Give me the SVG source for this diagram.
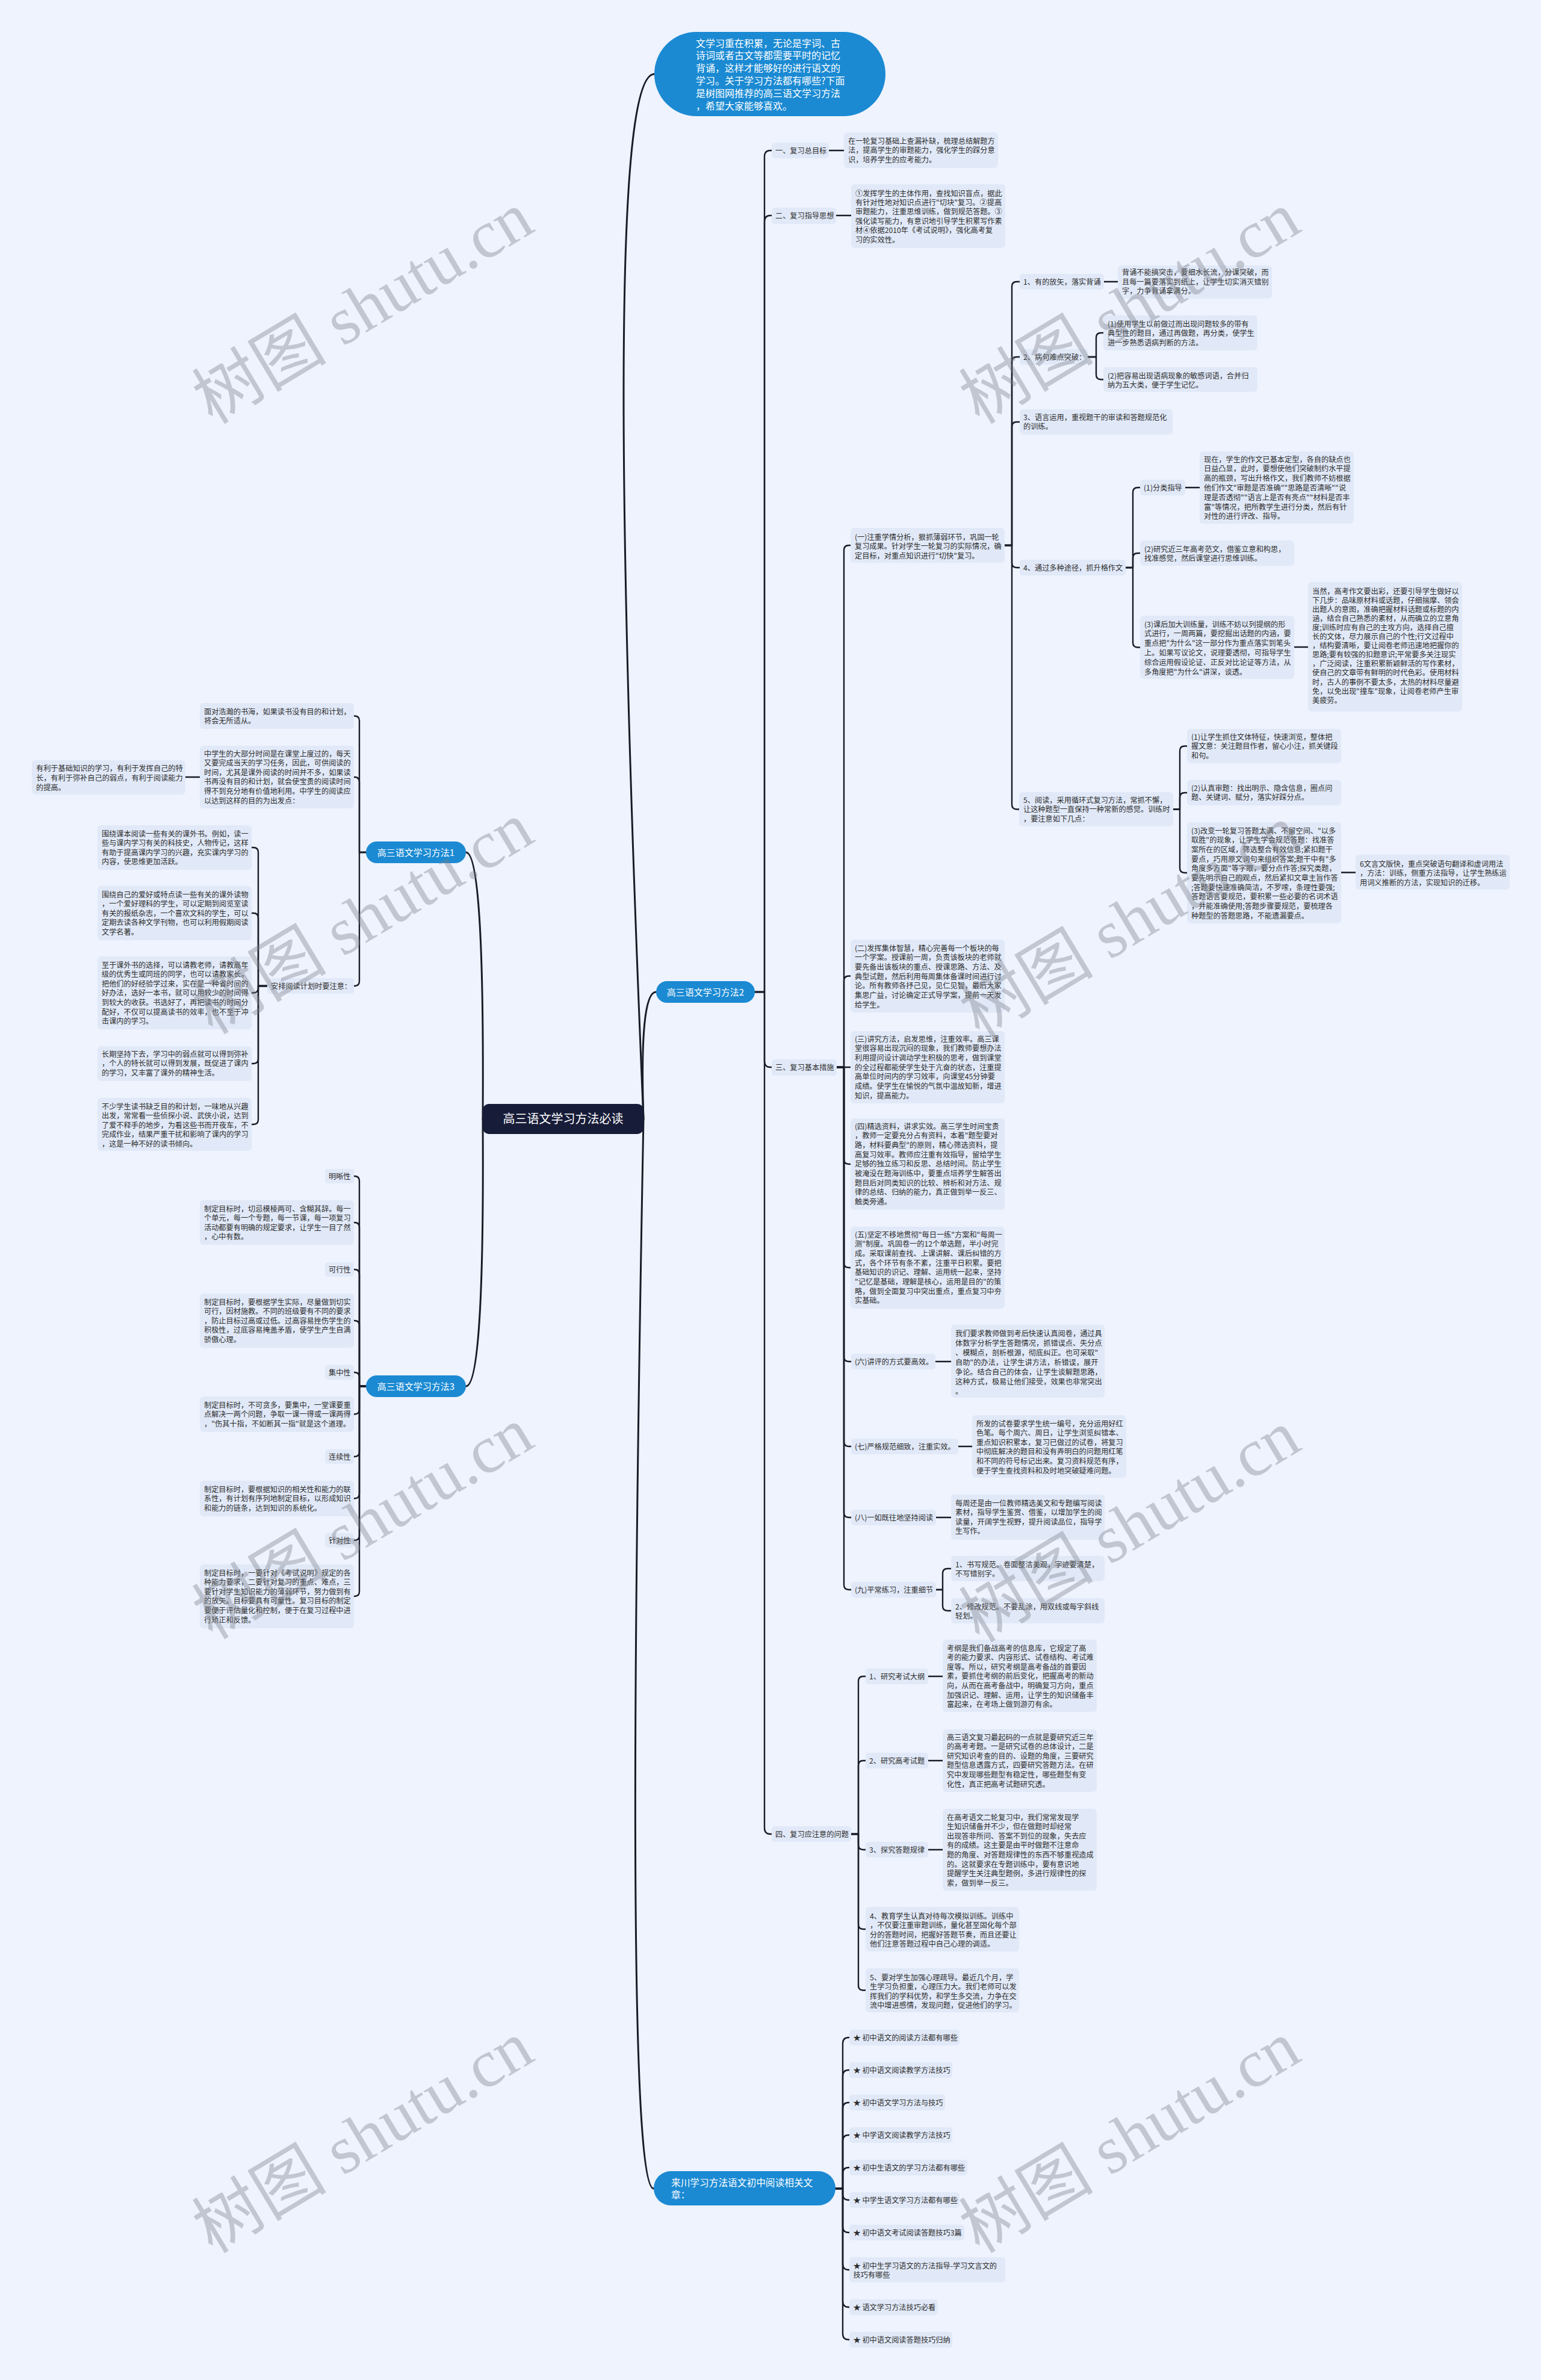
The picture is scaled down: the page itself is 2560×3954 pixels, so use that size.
<svg xmlns="http://www.w3.org/2000/svg" width="2560" height="3954" viewBox="0 0 2560 3954">
<defs><style>
.t{font-family:"Noto Sans CJK SC","Noto Sans",sans-serif;font-size:12.2px;fill:#2d2d2d}
.b{fill:#E1E9F8}
.p{fill:#1B8AD3}
.w{font-family:"Noto Sans CJK SC","Noto Sans",sans-serif;fill:#ffffff}
.c{fill:none;stroke:#191c28;stroke-width:2.4;stroke-linecap:round;stroke-linejoin:round}
.c0{fill:none;stroke:#191c28;stroke-width:3;stroke-linecap:round}
.wm{font-family:"Liberation Serif","Noto Sans CJK SC",serif;font-size:112px;fill:#7d8088;opacity:0.38}
</style></defs>
<rect width="2560" height="3954" fill="#EEF3FD"/>

<g id="connectors">
<path class="c0" d="M1069,1859 Q995,123 1087,123"/>
<path class="c0" d="M1069,1859 Q1062,1648 1090,1648"/>
<path class="c0" d="M1069,1859 Q1035,3636 1086,3636"/>
<path class="c0" d="M802,1859 Q805,1416 774,1416"/>
<path class="c0" d="M802,1859 Q805,2303 774,2303"/>
<!-- method2 -->
<path class="c" d="M1254,1648 H1270 V260 Q1270,250 1280,250 H1282"/>
<path class="c" d="M1254,1648 H1270 V368 Q1270,358 1280,358 H1282"/>
<path class="c" d="M1254,1648 H1270 V1763 Q1270,1773 1280,1773 H1282"/>
<path class="c" d="M1254,1648 H1270 V3037 Q1270,3047 1280,3047 H1282"/>
<path class="c" d="M1377,250 H1402"/>
<path class="c" d="M1389,358 H1414"/>
<!-- 三 -->
<path class="c" d="M1390,1773 H1402 V914 Q1402,906 1410,906 H1413"/>
<path class="c" d="M1390,1773 H1402 V1629.5 Q1402,1621.5 1410,1621.5 H1413"/>
<path class="c" d="M1390,1773 H1413"/>
<path class="c" d="M1390,1773 H1402 V1926 Q1402,1934 1410,1934 H1413"/>
<path class="c" d="M1390,1773 H1402 V2098 Q1402,2106 1410,2106 H1413"/>
<path class="c" d="M1390,1773 H1402 V2254 Q1402,2262 1410,2262 H1414"/>
<path class="c" d="M1390,1773 H1402 V2395 Q1402,2403 1410,2403 H1414"/>
<path class="c" d="M1390,1773 H1402 V2513 Q1402,2521 1410,2521 H1414"/>
<path class="c" d="M1390,1773 H1402 V2633 Q1402,2641 1410,2641 H1414"/>
<!-- (一) -->
<path class="c" d="M1669,906 H1681 V476 Q1681,468 1689,468 H1694"/>
<path class="c" d="M1669,906 H1681 V601 Q1681,593 1689,593 H1694"/>
<path class="c" d="M1669,906 H1681 V709 Q1681,701 1689,701 H1694"/>
<path class="c" d="M1669,906 H1681 V935 Q1681,943 1689,943 H1694"/>
<path class="c" d="M1669,906 H1681 V1336.5 Q1681,1344.5 1689,1344.5 H1693"/>
<path class="c" d="M1834,468 H1857"/>
<path class="c" d="M1807,593 H1821 V561 Q1821,553 1829,553 H1833"/>
<path class="c" d="M1807,593 H1821 V622.5 Q1821,630.5 1829,630.5 H1833"/>
<path class="c" d="M1870,943 H1882 V818 Q1882,810 1890,810 H1894"/>
<path class="c" d="M1870,943 H1882 V927 Q1882,919 1890,919 H1894"/>
<path class="c" d="M1870,943 H1882 V1067.5 Q1882,1075.5 1890,1075.5 H1894"/>
<path class="c" d="M1969,810 H1993"/>
<path class="c" d="M2150,1075 H2173"/>
<path class="c" d="M1949,1344.5 H1960 V1247.5 Q1960,1239.5 1968,1239.5 H1972"/>
<path class="c" d="M1949,1344.5 H1960 V1325 Q1960,1317 1968,1317 H1972"/>
<path class="c" d="M1949,1344.5 H1960 V1442 Q1960,1450 1968,1450 H1972"/>
<path class="c" d="M2228,1449.5 H2252"/>
<!-- (六)-(九) -->
<path class="c" d="M1554,2262 H1580"/>
<path class="c" d="M1592,2403 H1615"/>
<path class="c" d="M1555,2521 H1580"/>
<path class="c" d="M1555,2641 H1566 V2614 Q1566,2606 1574,2606 H1580"/>
<path class="c" d="M1555,2641 H1566 V2668 Q1566,2676 1574,2676 H1580"/>
<!-- 四 -->
<path class="c" d="M1414,3047 H1426 V2793 Q1426,2785 1434,2785 H1438"/>
<path class="c" d="M1414,3047 H1426 V2933 Q1426,2925 1434,2925 H1438"/>
<path class="c" d="M1414,3047 H1426 V3065 Q1426,3073 1434,3073 H1438"/>
<path class="c" d="M1414,3047 H1426 V3197 Q1426,3205 1434,3205 H1438"/>
<path class="c" d="M1414,3047 H1426 V3298.5 Q1426,3306.5 1434,3306.5 H1438"/>
<path class="c" d="M1542,2785 H1566"/>
<path class="c" d="M1542,2925 H1566"/>
<path class="c" d="M1542,3073 H1566"/>
<!-- links -->
<path class="c" d="M1388,3636 H1400 V3395 Q1400,3385 1410,3385 H1411"/>
<path class="c" d="M1388,3636 H1400 V3449 Q1400,3439 1410,3439 H1411"/>
<path class="c" d="M1388,3636 H1400 V3503 Q1400,3493 1410,3493 H1411"/>
<path class="c" d="M1388,3636 H1400 V3557 Q1400,3547 1410,3547 H1411"/>
<path class="c" d="M1388,3636 H1400 V3611 Q1400,3601 1410,3601 H1411"/>
<path class="c" d="M1388,3636 H1400 V3645 Q1400,3655 1410,3655 H1411"/>
<path class="c" d="M1388,3636 H1400 V3699 Q1400,3709 1410,3709 H1411"/>
<path class="c" d="M1388,3636 H1400 V3761 Q1400,3771 1410,3771 H1411"/>
<path class="c" d="M1388,3636 H1400 V3823 Q1400,3833 1410,3833 H1411"/>
<path class="c" d="M1388,3636 H1400 V3877 Q1400,3887 1410,3887 H1411"/>
<!-- method1 -->
<path class="c" d="M608,1416 H597 V1197.5 Q597,1189.5 589,1189.5 H588"/>
<path class="c" d="M608,1416 H597 V1299 Q597,1291 589,1291 H588"/>
<path class="c" d="M608,1416 H597 V1630 Q597,1638 589,1638 H588"/>
<path class="c" d="M332,1291 H308"/>
<path class="c" d="M444,1638 H429 V1416 Q429,1408 421,1408 H418"/>
<path class="c" d="M444,1638 H429 V1525 Q429,1517 421,1517 H418"/>
<path class="c" d="M444,1638 H429 V1641.5 Q429,1649.5 421,1649.5 H418"/>
<path class="c" d="M444,1638 H429 V1759 Q429,1767 421,1767 H418"/>
<path class="c" d="M444,1638 H429 V1860 Q429,1868 421,1868 H418"/>
<!-- method3 -->
<path class="c" d="M608,2303 H597 V1962 Q597,1954 589,1954 H588"/>
<path class="c" d="M608,2303 H597 V2039 Q597,2031 589,2031 H588"/>
<path class="c" d="M608,2303 H597 V2117 Q597,2109 589,2109 H588"/>
<path class="c" d="M608,2303 H597 V2202 Q597,2194 589,2194 H588"/>
<path class="c" d="M608,2303 H597 V2288 Q597,2280 589,2280 H588"/>
<path class="c" d="M608,2303 H597 V2341.5 Q597,2349.5 589,2349.5 H588"/>
<path class="c" d="M608,2303 H597 V2412 Q597,2420 589,2420 H588"/>
<path class="c" d="M608,2303 H597 V2481.5 Q597,2489.5 589,2489.5 H588"/>
<path class="c" d="M608,2303 H597 V2551 Q597,2559 589,2559 H588"/>
<path class="c" d="M608,2303 H597 V2644 Q597,2652 589,2652 H588"/>
</g>

<g id="root"><rect x="802" y="1834" width="267" height="50" rx="10" fill="#171c38"/><text class="w" x="935.5" y="1866" text-anchor="middle" font-size="20">高三语文学习方法必读</text></g>

<g id="intro"><rect class="p" x="1087" y="53" width="384" height="140" rx="70"/>
<text class="w" font-size="16"><tspan x="1156" y="77.5">文学习重在积累，无论是字词、古</tspan><tspan x="1156" dy="20.9">诗词或者古文等都需要平时的记忆</tspan><tspan x="1156" dy="20.9">背诵，这样才能够好的进行语文的</tspan><tspan x="1156" dy="20.9">学习。关于学习方法都有哪些?下面</tspan><tspan x="1156" dy="20.9">是树图网推荐的高三语文学习方法</tspan><tspan x="1156" dy="20.9">，希望大家能够喜欢。</tspan></text></g>

<g id="method2"><rect class="p" x="1090" y="1630" width="164" height="36" rx="18"/><text class="w" x="1172" y="1653.5" text-anchor="middle" font-size="15">高三语文学习方法2</text></g>

<g id="n-goal"><rect class="b" x="1282" y="237" width="95" height="26" rx="5"/><text class="t" x="1288" y="254.5">一、复习总目标</text></g>
<g id="n-goal-t"><rect class="b" x="1402" y="220" width="256" height="59" rx="6"/><text class="t"><tspan x="1409" y="238.5">在一轮复习基础上查漏补缺，梳理总结解题方</tspan><tspan x="1409" dy="15.8">法，提高学生的审题能力，强化学生的踩分意</tspan><tspan x="1409" dy="15.8">识，培养学生的应考能力。</tspan></text></g>

<g id="n-guide"><rect class="b" x="1282" y="345" width="107" height="27" rx="5"/><text class="t" x="1288" y="362.5">二、复习指导思想</text></g>
<g id="n-guide-t"><rect class="b" x="1414" y="306" width="256" height="106" rx="6"/><text class="t"><tspan x="1421" y="325.5">①发挥学生的主体作用，查找知识盲点，据此</tspan><tspan x="1421" dy="15.4">有针对性地对知识点进行"切块"复习。②提高</tspan><tspan x="1421" dy="15.4">审题能力，注重思维训练，做到规范答题。③</tspan><tspan x="1421" dy="15.4">强化读写能力，有意识地引导学生积累写作素</tspan><tspan x="1421" dy="15.4">材④依据2010年《考试说明》，强化高考复</tspan><tspan x="1421" dy="15.4">习的实效性。</tspan></text></g>

<g id="n-measure"><rect class="b" x="1282" y="1760" width="108" height="27" rx="5"/><text class="t" x="1288" y="1778">三、复习基本措施</text></g>

<g id="n-m1"><rect class="b" x="1413" y="877" width="256" height="58" rx="6"/><text class="t"><tspan x="1420" y="896.5">(一)注重学情分析，狠抓薄弱环节，巩固一轮</tspan><tspan x="1420" dy="15.6">复习成果。针对学生一轮复习的实际情况，确</tspan><tspan x="1420" dy="15.6">定目标，对重点知识进行"切快"复习。</tspan></text></g>

<g id="n-m1-1"><rect class="b" x="1694" y="455" width="140" height="26" rx="5"/><text class="t" x="1700" y="472.5">1、有的放矢，落实背诵</text></g>
<g id="n-m1-1t"><rect class="b" x="1857" y="441" width="256" height="55" rx="6"/><text class="t"><tspan x="1864" y="457">背诵不能搞突击，要细水长流，分课突破，而</tspan><tspan x="1864" dy="15.6">且每一篇要落实到纸上，让学生切实消灭错别</tspan><tspan x="1864" dy="15.6">字，力争背诵拿满分。</tspan></text></g>

<g id="n-m1-2"><rect class="b" x="1694" y="580" width="113" height="26" rx="5"/><text class="t" x="1700" y="597.5">2、病句难点突破：</text></g>
<g id="n-m1-2a"><rect class="b" x="1833" y="524" width="256" height="58" rx="6"/><text class="t"><tspan x="1840" y="542.5">(1)使用学生以前做过而出现问题较多的带有</tspan><tspan x="1840" dy="15.6">典型性的题目，通过再做题，再分类，使学生</tspan><tspan x="1840" dy="15.6">进一步熟悉语病判断的方法。</tspan></text></g>
<g id="n-m1-2b"><rect class="b" x="1833" y="610" width="256" height="41" rx="6"/><text class="t"><tspan x="1840" y="628.5">(2)把容易出现语病现象的敏感词语，合并归</tspan><tspan x="1840" dy="15.6">纳为五大类，便于学生记忆。</tspan></text></g>

<g id="n-m1-3"><rect class="b" x="1694" y="680" width="254" height="42" rx="6"/><text class="t"><tspan x="1700" y="697.5">3、语言运用，重视题干的审读和答题规范化</tspan><tspan x="1700" dy="15.6">的训练。</tspan></text></g>

<g id="n-m1-4"><rect class="b" x="1694" y="930" width="176" height="26" rx="5"/><text class="t" x="1700" y="947.5">4、通过多种途径，抓升格作文</text></g>
<g id="n-m1-4a"><rect class="b" x="1894" y="797" width="75" height="26" rx="5"/><text class="t" x="1900" y="814.5">(1)分类指导</text></g>
<g id="n-m1-4at"><rect class="b" x="1993" y="750" width="256" height="120" rx="6"/><text class="t"><tspan x="2000" y="767.5">现在，学生的作文已基本定型，各自的缺点也</tspan><tspan x="2000" dy="15.8">日益凸显，此时，要想使他们突破制约水平提</tspan><tspan x="2000" dy="15.8">高的瓶颈，写出升格作文，我们教师不妨根据</tspan><tspan x="2000" dy="15.8">他们作文"审题是否准确""思路是否清晰""说</tspan><tspan x="2000" dy="15.8">理是否透彻""语言上是否有亮点""材料是否丰</tspan><tspan x="2000" dy="15.8">富"等情况，把所教学生进行分类，然后有针</tspan><tspan x="2000" dy="15.8">对性的进行评改、指导。</tspan></text></g>
<g id="n-m1-4b"><rect class="b" x="1894" y="898" width="256" height="42" rx="6"/><text class="t"><tspan x="1901" y="916.5">(2)研究近三年高考范文，借鉴立意和构思，</tspan><tspan x="1901" dy="15.4">找准感觉，然后课堂进行思维训练。</tspan></text></g>
<g id="n-m1-4c"><rect class="b" x="1894" y="1023" width="256" height="105" rx="6"/><text class="t"><tspan x="1901" y="1041.5">(3)课后加大训练量，训练不妨以列提纲的形</tspan><tspan x="1901" dy="15.8">式进行，一周两篇，要挖掘出话题的内涵，要</tspan><tspan x="1901" dy="15.8">重点把"为什么"这一部分作为重点落实到笔头</tspan><tspan x="1901" dy="15.8">上。如果写议论文，说理要透彻，可指导学生</tspan><tspan x="1901" dy="15.8">综合运用假设论证、正反对比论证等方法，从</tspan><tspan x="1901" dy="15.8">多角度把"为什么"讲深，谈透。</tspan></text></g>
<g id="n-m1-4ct"><rect class="b" x="2173" y="967" width="256" height="215" rx="6"/><text class="t"><tspan x="2180" y="986.5">当然，高考作文要出彩，还要引导学生做好以</tspan><tspan x="2180" dy="15.1">下几步：品味原材料或话题，仔细揣摩、领会</tspan><tspan x="2180" dy="15.1">出题人的意图，准确把握材料话题或标题的内</tspan><tspan x="2180" dy="15.1">涵，结合自己熟悉的素材，从而确立的立意角</tspan><tspan x="2180" dy="15.1">度;训练时应有自己的主攻方向，选择自己擅</tspan><tspan x="2180" dy="15.1">长的文体，尽力展示自己的个性;行文过程中</tspan><tspan x="2180" dy="15.1">，结构要清晰，要让阅卷老师迅速地把握你的</tspan><tspan x="2180" dy="15.1">思路;要有较强的扣题意识;平常要多关注现实</tspan><tspan x="2180" dy="15.1">，广泛阅读，注重积累新颖鲜活的写作素材，</tspan><tspan x="2180" dy="15.1">使自己的文章带有鲜明的时代色彩。使用材料</tspan><tspan x="2180" dy="15.1">时，古人的事例不要太多，太热的材料尽量避</tspan><tspan x="2180" dy="15.1">免，以免出现"撞车"现象，让阅卷老师产生审</tspan><tspan x="2180" dy="15.1">美疲劳。</tspan></text></g>

<g id="n-m1-5"><rect class="b" x="1693" y="1316" width="256" height="57" rx="6"/><text class="t"><tspan x="1700" y="1333.5">5、阅读，采用循环式复习方法，常抓不懈，</tspan><tspan x="1700" dy="15.8">让这种题型一直保持一种常新的感觉。训练时</tspan><tspan x="1700" dy="15.8">，要注意如下几点：</tspan></text></g>
<g id="n-m1-5a"><rect class="b" x="1972" y="1211" width="256" height="57" rx="6"/><text class="t"><tspan x="1979" y="1228.5">(1)让学生抓住文体特征，快速浏览，整体把</tspan><tspan x="1979" dy="15.6">握文意：关注题目作者，留心小注，抓关键段</tspan><tspan x="1979" dy="15.6">和句。</tspan></text></g>
<g id="n-m1-5b"><rect class="b" x="1972" y="1296" width="256" height="42" rx="6"/><text class="t"><tspan x="1979" y="1313.5">(2)认真审题：找出明示、隐含信息，圈点问</tspan><tspan x="1979" dy="15.8">题、关键词、赋分，落实好踩分点。</tspan></text></g>
<g id="n-m1-5c"><rect class="b" x="1972" y="1366" width="256" height="168" rx="6"/><text class="t"><tspan x="1979" y="1384.5">(3)改变一轮复习答题太满、不留空间、"以多</tspan><tspan x="1979" dy="15.7">取胜"的现象，让学生学会规范答题：找准答</tspan><tspan x="1979" dy="15.7">案所在的区域，筛选整合有效信息;紧扣题干</tspan><tspan x="1979" dy="15.7">要点，巧用原文词句来组织答案;题干中有"多</tspan><tspan x="1979" dy="15.7">角度多方面"等字眼，要分点作答;探究类题，</tspan><tspan x="1979" dy="15.7">要先明示自己的观点，然后紧扣文章主旨作答</tspan><tspan x="1979" dy="15.7">;答题要快速准确简洁，不罗嗦，条理性要强;</tspan><tspan x="1979" dy="15.7">答题语言要规范，要积累一些必要的名词术语</tspan><tspan x="1979" dy="15.7">，并能准确使用;答题步骤要规范，要梳理各</tspan><tspan x="1979" dy="15.7">种题型的答题思路，不能遗漏要点。</tspan></text></g>
<g id="n-m1-5ct"><rect class="b" x="2252" y="1420" width="256" height="58" rx="6"/><text class="t"><tspan x="2259" y="1439.5">6文言文版快，重点突破语句翻译和虚词用法</tspan><tspan x="2259" dy="15.8">，方法：训练，侧重方法指导，让学生熟练运</tspan><tspan x="2259" dy="15.8">用词义推断的方法，实现知识的迁移。</tspan></text></g>

<g id="n-m2"><rect class="b" x="1413" y="1561" width="256" height="121" rx="6"/><text class="t"><tspan x="1420" y="1579.5">(二)发挥集体智慧，精心完善每一个板块的每</tspan><tspan x="1420" dy="15.7">一个学案。授课前一周，负责该板块的老师就</tspan><tspan x="1420" dy="15.7">要先备出该板块的重点、授课思路、方法、及</tspan><tspan x="1420" dy="15.7">典型试题，然后利用每周集体备课时间进行讨</tspan><tspan x="1420" dy="15.7">论。所有教师各抒己见，见仁见智，最后大家</tspan><tspan x="1420" dy="15.7">集思广益，讨论确定正式导学案，提前一天发</tspan><tspan x="1420" dy="15.7">给学生。</tspan></text></g>
<g id="n-m3"><rect class="b" x="1413" y="1713" width="256" height="120" rx="6"/><text class="t"><tspan x="1420" y="1730.5">(三)讲究方法，启发思维，注重效率。高三课</tspan><tspan x="1420" dy="15.7">堂很容易出现沉闷的现象，我们教师要想办法</tspan><tspan x="1420" dy="15.7">利用提问设计调动学生积极的思考，做到课堂</tspan><tspan x="1420" dy="15.7">的全过程都能使学生处于亢奋的状态，注重提</tspan><tspan x="1420" dy="15.7">高单位时间内的学习效率，向课堂45分钟要</tspan><tspan x="1420" dy="15.7">成绩。使学生在愉悦的气氛中温故知新，增进</tspan><tspan x="1420" dy="15.7">知识，提高能力。</tspan></text></g>
<g id="n-m4"><rect class="b" x="1413" y="1858" width="256" height="152" rx="6"/><text class="t"><tspan x="1420" y="1875.5">(四)精选资料，讲求实效。高三学生时间宝贵</tspan><tspan x="1420" dy="15.7">，教师一定要充分占有资料，本着"题型要对</tspan><tspan x="1420" dy="15.7">路，材料要典型"的原则，精心筛选资料，提</tspan><tspan x="1420" dy="15.7">高复习效率。教师应注重有效指导，留给学生</tspan><tspan x="1420" dy="15.7">足够的独立练习和反思、总结时间。防止学生</tspan><tspan x="1420" dy="15.7">被淹没在题海训练中，要重点培养学生解答出</tspan><tspan x="1420" dy="15.7">题目后对同类知识的比较、辨析和对方法、规</tspan><tspan x="1420" dy="15.7">律的总结、归纳的能力，真正做到举一反三、</tspan><tspan x="1420" dy="15.7">触类旁通。</tspan></text></g>
<g id="n-m5"><rect class="b" x="1413" y="2038" width="256" height="136" rx="6"/><text class="t"><tspan x="1420" y="2055.5">(五)坚定不移地贯彻"每日一练"方案和"每周一</tspan><tspan x="1420" dy="15.7">测"制度。巩固卷一的12个单选题，半小时完</tspan><tspan x="1420" dy="15.7">成。采取课前查找、上课讲解、课后纠错的方</tspan><tspan x="1420" dy="15.7">式，各个环节有条不紊，注重平日积累。要把</tspan><tspan x="1420" dy="15.7">基础知识的识记、理解、运用统一起来，坚持</tspan><tspan x="1420" dy="15.7">"记忆是基础，理解是核心，运用是目的"的策</tspan><tspan x="1420" dy="15.7">略，做到全面复习中突出重点，重点复习中夯</tspan><tspan x="1420" dy="15.7">实基础。</tspan></text></g>

<g id="n-m6"><rect class="b" x="1414" y="2249" width="140" height="26" rx="5"/><text class="t" x="1420" y="2266.5">(六)讲评的方式要高效。</text></g>
<g id="n-m6t"><rect class="b" x="1580" y="2201" width="255" height="121" rx="6"/><text class="t"><tspan x="1587" y="2219.5">我们要求教师做到考后快速认真阅卷，通过具</tspan><tspan x="1587" dy="16">体数字分析学生答题情况，抓错误点、失分点</tspan><tspan x="1587" dy="16">、模糊点，剖析根源，彻底纠正。也可采取"</tspan><tspan x="1587" dy="16">自助"的办法，让学生讲方法，析错误，展开</tspan><tspan x="1587" dy="16">争论。结合自己的体会，让学生谈解题思路，</tspan><tspan x="1587" dy="16">这种方式，极易让他们接受，效果也非常突出</tspan><tspan x="1587" dy="16">。</tspan></text></g>
<g id="n-m7"><rect class="b" x="1414" y="2390" width="178" height="26" rx="5"/><text class="t" x="1420" y="2407.5">(七)严格规范细致，注重实效。</text></g>
<g id="n-m7t"><rect class="b" x="1615" y="2351" width="256" height="104" rx="6"/><text class="t"><tspan x="1622" y="2369.5">所发的试卷要求学生统一编号，充分运用好红</tspan><tspan x="1622" dy="15.6">色笔。每个周六、周日，让学生浏览纠错本、</tspan><tspan x="1622" dy="15.6">重点知识积累本，复习已做过的试卷，将复习</tspan><tspan x="1622" dy="15.6">中彻底解决的题目和没有弄明白的问题用红笔</tspan><tspan x="1622" dy="15.6">和不同的符号标记出来。复习资料规范有序，</tspan><tspan x="1622" dy="15.6">便于学生查找资料和及时地突破疑难问题。</tspan></text></g>
<g id="n-m8"><rect class="b" x="1414" y="2508" width="141" height="26" rx="5"/><text class="t" x="1420" y="2525.5">(八)一如既往地坚持阅读</text></g>
<g id="n-m8t"><rect class="b" x="1580" y="2483" width="255" height="75" rx="6"/><text class="t"><tspan x="1587" y="2501.5">每周还是由一位教师精选美文和专题编写阅读</tspan><tspan x="1587" dy="15.6">素材，指导学生鉴赏、借鉴，以增加学生的阅</tspan><tspan x="1587" dy="15.6">读量，开阔学生视野，提升阅读品位，指导学</tspan><tspan x="1587" dy="15.6">生写作。</tspan></text></g>
<g id="n-m9"><rect class="b" x="1414" y="2628" width="141" height="26" rx="5"/><text class="t" x="1420" y="2645.5">(九)平常练习，注重细节</text></g>
<g id="n-m9a"><rect class="b" x="1580" y="2585" width="255" height="42" rx="6"/><text class="t"><tspan x="1587" y="2603.5">1、书写规范。卷面整洁美观，字迹要清楚，</tspan><tspan x="1587" dy="15.5">不写错别字。</tspan></text></g>
<g id="n-m9b"><rect class="b" x="1580" y="2655" width="255" height="42" rx="6"/><text class="t"><tspan x="1587" y="2673.5">2、修改规范。不要乱涂，用双线或每字斜线</tspan><tspan x="1587" dy="15.5">轻划。</tspan></text></g>

<g id="n-notice"><rect class="b" x="1282" y="3034" width="132" height="26" rx="5"/><text class="t" x="1288" y="3051.5">四、复习应注意的问题</text></g>
<g id="n-n1"><rect class="b" x="1438" y="2772" width="104" height="26" rx="5"/><text class="t" x="1444" y="2789.5">1、研究考试大纲</text></g>
<g id="n-n1t"><rect class="b" x="1566" y="2724" width="256" height="120" rx="6"/><text class="t"><tspan x="1573" y="2742.5">考纲是我们备战高考的信息库，它规定了高</tspan><tspan x="1573" dy="15.6">考的能力要求、内容形式、试卷结构、考试难</tspan><tspan x="1573" dy="15.6">度等。所以，研究考纲是高考备战的首要因</tspan><tspan x="1573" dy="15.6">素，要抓住考纲的前后变化，把握高考的新动</tspan><tspan x="1573" dy="15.6">向，从而在高考备战中，明确复习方向，重点</tspan><tspan x="1573" dy="15.6">加强识记、理解、运用，让学生的知识储备丰</tspan><tspan x="1573" dy="15.6">富起来，在考场上做到游刃有余。</tspan></text></g>
<g id="n-n2"><rect class="b" x="1438" y="2912" width="104" height="26" rx="5"/><text class="t" x="1444" y="2929.5">2、研究高考试题</text></g>
<g id="n-n2t"><rect class="b" x="1566" y="2873" width="256" height="104" rx="6"/><text class="t"><tspan x="1573" y="2890.5">高三语文复习最起码的一点就是要研究近三年</tspan><tspan x="1573" dy="15.6">的高考考题。一是研究试卷的总体设计，二是</tspan><tspan x="1573" dy="15.6">研究知识考查的目的、设题的角度，三要研究</tspan><tspan x="1573" dy="15.6">题型信息透露方式，四要研究答题方法。在研</tspan><tspan x="1573" dy="15.6">究中发现哪些题型有稳定性，哪些题型有变</tspan><tspan x="1573" dy="15.6">化性，真正把高考试题研究透。</tspan></text></g>
<g id="n-n3"><rect class="b" x="1438" y="3060" width="104" height="26" rx="5"/><text class="t" x="1444" y="3077.5">3、探究答题规律</text></g>
<g id="n-n3t"><rect class="b" x="1566" y="3005" width="256" height="136" rx="6"/><text class="t"><tspan x="1573" y="3023.5">在高考语文二轮复习中，我们常常发现学</tspan><tspan x="1573" dy="15.6">生知识储备并不少，但在做题时却经常</tspan><tspan x="1573" dy="15.6">出现答非所问、答案不到位的现象，失去应</tspan><tspan x="1573" dy="15.6">有的成绩。这主要是由平时做题不注意命</tspan><tspan x="1573" dy="15.6">题的角度、对答题规律性的东西不够重视造成</tspan><tspan x="1573" dy="15.6">的。这就要求在专题训练中，要有意识地</tspan><tspan x="1573" dy="15.6">提醒学生关注典型题例，多进行规律性的探</tspan><tspan x="1573" dy="15.6">索，做到举一反三。</tspan></text></g>
<g id="n-n4"><rect class="b" x="1438" y="3168" width="255" height="74" rx="6"/><text class="t"><tspan x="1445" y="3187.5">4、教育学生认真对待每次模拟训练。训练中</tspan><tspan x="1445" dy="15.6">，不仅要注重审题训练，量化甚至固化每个部</tspan><tspan x="1445" dy="15.6">分的答题时间，把握好答题节奏，而且还要让</tspan><tspan x="1445" dy="15.6">他们注意答题过程中自己心理的调适。</tspan></text></g>
<g id="n-n5"><rect class="b" x="1438" y="3270" width="255" height="73" rx="6"/><text class="t"><tspan x="1445" y="3289.5">5、要对学生加强心理疏导。最近几个月，学</tspan><tspan x="1445" dy="15.6">生学习负担重，心理压力大。我们老师可以发</tspan><tspan x="1445" dy="15.6">挥我们的学科优势，和学生多交流，力争在交</tspan><tspan x="1445" dy="15.6">流中增进感情，发现问题，促进他们的学习。</tspan></text></g>

<g id="links"><rect class="p" x="1086" y="3607" width="302" height="57" rx="28.5"/><text class="w" font-size="15.7"><tspan x="1115" y="3631.5">来川学习方法语文初中阅读相关文</tspan><tspan x="1115" dy="20.4">章：</tspan></text></g>
<g id="l1"><rect class="b" x="1411" y="3372" width="183" height="26" rx="5"/><text class="t" x="1417.5" y="3389.5">★ 初中语文的阅读方法都有哪些</text></g>
<g id="l2"><rect class="b" x="1411" y="3426" width="171" height="26" rx="5"/><text class="t" x="1417.5" y="3443.5">★ 初中语文阅读教学方法技巧</text></g>
<g id="l3"><rect class="b" x="1411" y="3480" width="159" height="26" rx="5"/><text class="t" x="1417.5" y="3497.5">★ 初中语文学习方法与技巧</text></g>
<g id="l4"><rect class="b" x="1411" y="3534" width="171" height="26" rx="5"/><text class="t" x="1417.5" y="3551.5">★ 中学语文阅读教学方法技巧</text></g>
<g id="l5"><rect class="b" x="1411" y="3588" width="196" height="26" rx="5"/><text class="t" x="1417.5" y="3605.5">★ 初中生语文的学习方法都有哪些</text></g>
<g id="l6"><rect class="b" x="1411" y="3642" width="183" height="26" rx="5"/><text class="t" x="1417.5" y="3659.5">★ 中学生语文学习方法都有哪些</text></g>
<g id="l7"><rect class="b" x="1411" y="3696" width="191" height="26" rx="5"/><text class="t" x="1417.5" y="3713.5">★ 初中语文考试阅读答题技巧3篇</text></g>
<g id="l8"><rect class="b" x="1411" y="3750" width="259" height="42" rx="5"/><text class="t"><tspan x="1417.5" y="3768.5">★ 初中生学习语文的方法指导-学习文言文的</tspan><tspan x="1417.5" dy="15.5">技巧有哪些</tspan></text></g>
<g id="l9"><rect class="b" x="1411" y="3820" width="147" height="26" rx="5"/><text class="t" x="1417.5" y="3837.5">★ 语文学习方法技巧必看</text></g>
<g id="l10"><rect class="b" x="1411" y="3874" width="171" height="26" rx="5"/><text class="t" x="1417.5" y="3891.5">★ 初中语文阅读答题技巧归纳</text></g>

<g id="method1"><rect class="p" x="608" y="1398" width="166" height="36" rx="18"/><text class="w" x="691" y="1421.5" text-anchor="middle" font-size="15">高三语文学习方法1</text></g>
<g id="n-a1"><rect class="b" x="332" y="1168" width="256" height="43" rx="6"/><text class="t"><tspan x="339" y="1186.5">面对浩瀚的书海，如果读书没有目的和计划，</tspan><tspan x="339" dy="15.6">将会无所适从。</tspan></text></g>
<g id="n-a2"><rect class="b" x="332" y="1239" width="256" height="104" rx="6"/><text class="t"><tspan x="339" y="1256.5">中学生的大部分时间是在课堂上度过的，每天</tspan><tspan x="339" dy="15.6">又要完成当天的学习任务，因此，可供阅读的</tspan><tspan x="339" dy="15.6">时间，尤其是课外阅读的时间并不多，如果读</tspan><tspan x="339" dy="15.6">书再没有目的和计划，就会使宝贵的阅读时间</tspan><tspan x="339" dy="15.6">得不到充分地有价值地利用。中学生的阅读应</tspan><tspan x="339" dy="15.6">以达到这样的目的为出发点：</tspan></text></g>
<g id="n-a2t"><rect class="b" x="53" y="1263" width="255" height="57" rx="6"/><text class="t"><tspan x="60" y="1280.5">有利于基础知识的学习，有利于发挥自己的特</tspan><tspan x="60" dy="16">长，有利于弥补自己的弱点，有利于阅读能力</tspan><tspan x="60" dy="16">的提高。</tspan></text></g>
<g id="n-a3"><rect class="b" x="444" y="1625" width="144" height="26" rx="5"/><text class="t" x="450" y="1642.5">安排阅读计划时要注意：</text></g>
<g id="n-a3a"><rect class="b" x="162" y="1371" width="256" height="74" rx="6"/><text class="t"><tspan x="169" y="1389.5">围绕课本阅读一些有关的课外书。例如，读一</tspan><tspan x="169" dy="15.6">些与课内学习有关的科技史，人物传记，这样</tspan><tspan x="169" dy="15.6">有助于提高课内学习的兴趣，充实课内学习的</tspan><tspan x="169" dy="15.6">内容，使思维更加活跃。</tspan></text></g>
<g id="n-a3b"><rect class="b" x="162" y="1472" width="256" height="90" rx="6"/><text class="t"><tspan x="169" y="1490.5">围绕自己的爱好或特点读一些有关的课外读物</tspan><tspan x="169" dy="15.6">，一个爱好理科的学生，可以定期到阅览室读</tspan><tspan x="169" dy="15.6">有关的报纸杂志，一个喜欢文科的学生，可以</tspan><tspan x="169" dy="15.6">定期去读各种文学刊物，也可以利用假期阅读</tspan><tspan x="169" dy="15.6">文学名著。</tspan></text></g>
<g id="n-a3c"><rect class="b" x="162" y="1589" width="256" height="121" rx="6"/><text class="t"><tspan x="169" y="1607.5">至于课外书的选择，可以请教老师，请教高年</tspan><tspan x="169" dy="15.6">级的优秀生或同班的同学，也可以请教家长。</tspan><tspan x="169" dy="15.6">把他们的好经验学过来，实在是一种省时间的</tspan><tspan x="169" dy="15.6">好办法，选好一本书，就可以用较少的时间得</tspan><tspan x="169" dy="15.6">到较大的收获。书选好了，再把读书的时间分</tspan><tspan x="169" dy="15.6">配好，不仅可以提高读书的效率，也不至于冲</tspan><tspan x="169" dy="15.6">击课内的学习。</tspan></text></g>
<g id="n-a3d"><rect class="b" x="162" y="1738" width="256" height="58" rx="6"/><text class="t"><tspan x="169" y="1755.5">长期坚持下去，学习中的弱点就可以得到弥补</tspan><tspan x="169" dy="15.6">，个人的特长就可以得到发展，既促进了课内</tspan><tspan x="169" dy="15.6">的学习，又丰富了课外的精神生活。</tspan></text></g>
<g id="n-a3e"><rect class="b" x="162" y="1824" width="256" height="88" rx="6"/><text class="t"><tspan x="169" y="1842.5">不少学生读书缺乏目的和计划，一味地从兴趣</tspan><tspan x="169" dy="15.6">出发，常常看一些侦探小说、武侠小说，达到</tspan><tspan x="169" dy="15.6">了爱不释手的地步，为看这些书而开夜车，不</tspan><tspan x="169" dy="15.6">完成作业，结果严重干扰和影响了课内的学习</tspan><tspan x="169" dy="15.6">，这是一种不好的读书倾向。</tspan></text></g>

<g id="method3"><rect class="p" x="608" y="2285" width="166" height="36" rx="18"/><text class="w" x="691" y="2308.5" text-anchor="middle" font-size="15">高三语文学习方法3</text></g>
<g id="n-c1"><rect class="b" x="540" y="1942" width="48" height="24" rx="5"/><text class="t" x="546" y="1958.5">明晰性</text></g>
<g id="n-c1t"><rect class="b" x="332" y="1994" width="256" height="74" rx="6"/><text class="t"><tspan x="339" y="2012.5">制定目标时，切忌模棱两可、含糊其辞。每一</tspan><tspan x="339" dy="15.6">个单元，每一个专题，每一节课，每一项复习</tspan><tspan x="339" dy="15.6">活动都要有明确的规定要求，让学生一目了然</tspan><tspan x="339" dy="15.6">，心中有数。</tspan></text></g>
<g id="n-c2"><rect class="b" x="540" y="2097" width="48" height="24" rx="5"/><text class="t" x="546" y="2113.5">可行性</text></g>
<g id="n-c2t"><rect class="b" x="332" y="2149" width="256" height="90" rx="6"/><text class="t"><tspan x="339" y="2167.5">制定目标时，要根据学生实际，尽量做到切实</tspan><tspan x="339" dy="15.6">可行，因材施教。不同的班级要有不同的要求</tspan><tspan x="339" dy="15.6">，防止目标过高或过低。过高容易挫伤学生的</tspan><tspan x="339" dy="15.6">积极性，过底容易掩盖矛盾，使学生产生自满</tspan><tspan x="339" dy="15.6">骄傲心理。</tspan></text></g>
<g id="n-c3"><rect class="b" x="540" y="2268" width="48" height="24" rx="5"/><text class="t" x="546" y="2284.5">集中性</text></g>
<g id="n-c3t"><rect class="b" x="332" y="2320" width="256" height="59" rx="6"/><text class="t"><tspan x="339" y="2338.5">制定目标时，不可贪多，要集中，一堂课要重</tspan><tspan x="339" dy="15.6">点解决一两个问题，争取一课一得或一课两得</tspan><tspan x="339" dy="15.6">，"伤其十指，不如断其一指"就是这个道理。</tspan></text></g>
<g id="n-c4"><rect class="b" x="540" y="2408" width="48" height="24" rx="5"/><text class="t" x="546" y="2424.5">连续性</text></g>
<g id="n-c4t"><rect class="b" x="332" y="2460" width="256" height="59" rx="6"/><text class="t"><tspan x="339" y="2478.5">制定目标时，要根据知识的相关性和能力的联</tspan><tspan x="339" dy="15.6">系性，有计划有序列地制定目标，以形成知识</tspan><tspan x="339" dy="15.6">和能力的链条，达到知识的系统化。</tspan></text></g>
<g id="n-c5"><rect class="b" x="540" y="2547" width="48" height="24" rx="5"/><text class="t" x="546" y="2563.5">针对性</text></g>
<g id="n-c5t"><rect class="b" x="332" y="2599" width="256" height="106" rx="6"/><text class="t"><tspan x="339" y="2617.5">制定目标时，一要针对《考试说明》规定的各</tspan><tspan x="339" dy="15.6">种能力要求，二要针对复习的重点、难点，三</tspan><tspan x="339" dy="15.6">要针对学生知识能力的薄弱环节，努力做到有</tspan><tspan x="339" dy="15.6">的放矢。目标要具有可量性。复习目标的制定</tspan><tspan x="339" dy="15.6">要便于评估量化和控制，便于在复习过程中进</tspan><tspan x="339" dy="15.6">行矫正和反馈。</tspan></text></g>

<g id="watermarks">
<text class="wm" transform="translate(353,706) rotate(-31)">树图 shutu.cn</text>
<text class="wm" transform="translate(1627,706) rotate(-31)">树图 shutu.cn</text>
<text class="wm" transform="translate(353,1720) rotate(-31)">树图 shutu.cn</text>
<text class="wm" transform="translate(1627,1725) rotate(-31)">树图 shutu.cn</text>
<text class="wm" transform="translate(353,2725) rotate(-31)">树图 shutu.cn</text>
<text class="wm" transform="translate(1627,2730) rotate(-31)">树图 shutu.cn</text>
<text class="wm" transform="translate(353,3745) rotate(-31)">树图 shutu.cn</text>
<text class="wm" transform="translate(1627,3745) rotate(-31)">树图 shutu.cn</text>
</g>
</svg>
